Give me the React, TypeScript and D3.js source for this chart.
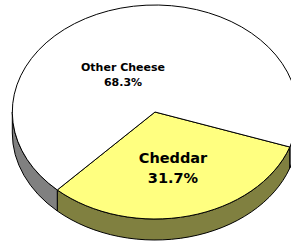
import { useEffect, useRef } from 'react';
import * as d3 from 'd3';

// data
const categories = ['Cheddar', 'Other Cheese'];
const shares = [31.7, 68.3];
const topColors = ['#ffff80', '#ffffff'];
const sideColors = ['#808040', '#808080'];

export default function App() {
  const svgRef = useRef<SVGSVGElement>(null);
  const width = 291;
  const height = 243;

  useEffect(() => {
    if (!svgRef.current) return;
    const svg = d3.select(svgRef.current);
    svg.selectAll('*').remove();

    const cx = 155, cy = 112, rx = 142.7, ry = 107, depth = 21;
    const start = (109.1 * Math.PI) / 180;

    const pie = d3.pie<number>().sort(null).value(d => d)
      .startAngle(start).endAngle(start + 2 * Math.PI);
    const arcs = pie(shares);

    const px = (a: number) => cx + rx * Math.sin(a);
    const py = (a: number, dz = 0) => cy - ry * Math.cos(a) + dz;

    // выпуклая боковая стенка (только передняя половина)
    const sidePath = (a1: number, a2: number) => {
      const large = a2 - a1 > Math.PI ? 1 : 0;
      return `M${px(a1)},${py(a1)} A${rx},${ry} 0 ${large} 1 ${px(a2)},${py(a2)}` +
        ` L${px(a2)},${py(a2, depth)} A${rx},${ry} 0 ${large} 0 ${px(a1)},${py(a1, depth)} Z`;
    };

    const front = (a1: number, a2: number) => {
      const segs: [number, number][] = [];
      for (let k = -1; k <= 2; k++) {
        const lo = Math.PI / 2 + k * 2 * Math.PI;
        const hi = (3 * Math.PI) / 2 + k * 2 * Math.PI;
        const s = Math.max(a1, lo), e = Math.min(a2, hi);
        if (e > s) segs.push([s, e]);
      }
      return segs;
    };

    const g = svg.append('g');

    arcs.forEach((d, i) => {
      front(d.startAngle, d.endAngle).forEach(([s, e]) => {
        g.append('path')
          .attr('d', sidePath(s, e))
          .attr('fill', sideColors[i])
          .attr('stroke', '#000')
          .attr('stroke-width', 1)
          .attr('stroke-linejoin', 'round');
      });
    });

    arcs.forEach((d, i) => {
      const large = d.endAngle - d.startAngle > Math.PI ? 1 : 0;
      g.append('path')
        .attr('d', `M${cx},${cy} L${px(d.startAngle)},${py(d.startAngle)}` +
          ` A${rx},${ry} 0 ${large} 1 ${px(d.endAngle)},${py(d.endAngle)} Z`)
        .attr('fill', topColors[i])
        .attr('stroke', '#000')
        .attr('stroke-width', 1)
        .attr('stroke-linejoin', 'round');
    });

    // подписи
    const labelPos = [
      { x: 173, y: 163, size: 14.5, gap: 20 },
      { x: 123, y: 71, size: 11, gap: 15 },
    ];
    arcs.forEach((d, i) => {
      const p = labelPos[i];
      const t = g.append('text')
        .attr('text-anchor', 'middle')
        .attr('font-family', '"DejaVu Sans", Verdana, sans-serif')
        .attr('font-weight', 'bold')
        .attr('font-size', p.size)
        .attr('fill', '#000');
      t.append('tspan').attr('x', p.x).attr('y', p.y).text(categories[i]);
      t.append('tspan').attr('x', p.x).attr('y', p.y + p.gap)
        .text(`${d3.format('.1f')(d.data)}%`);
    });
  }, []);

  return (
    <svg
      ref={svgRef}
      width={width}
      height={height}
      style={{ position: 'absolute', left: 0, top: 0, background: '#fff' }}
    />
  );
}
